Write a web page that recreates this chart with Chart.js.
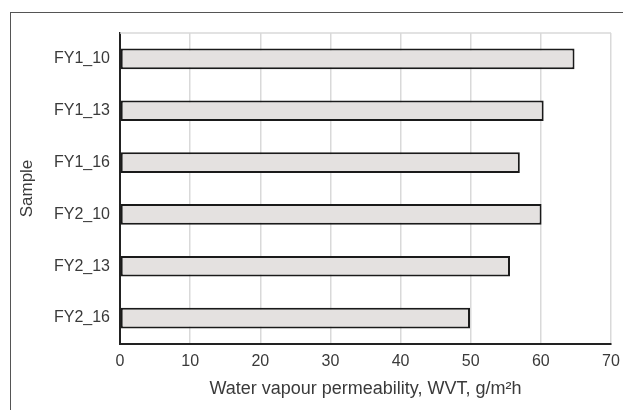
<!DOCTYPE html>
<html>
<head>
    <title>Water vapour permeability</title>
    <script src="https://cdn.jsdelivr.net/npm/chart.js"></script>
    <style>
        body {
            margin: 0;
            padding: 0;
            background: #fff;
        }
        .frame {
            position: absolute;
            left: 10px;
            top: 12px;
            width: 700px;
            height: 500px;
            border: 1.5px solid #555;
        }
        .wrap {
            position: absolute;
            left: 0;
            top: 0;
            width: 623px;
            height: 410px;
        }
    </style>
</head>
<body>
    <div class="frame"></div>
    <div class="wrap"><canvas id="wvtChart"></canvas></div>

    <script>
        const samples = ["FY1_10", "FY1_13", "FY1_16", "FY2_10", "FY2_13", "FY2_16"];
        const wvtValues = [64.8, 60.4, 57.0, 60.1, 55.6, 49.9];
        const xTicks = [0, 10, 20, 30, 40, 50, 60, 70];

        // light line along the top of the plot area
        const topBorder = {
            id: 'topBorder',
            beforeDatasetsDraw(chart) {
                const { ctx, chartArea } = chart;
                ctx.save();
                ctx.strokeStyle = '#d9d9d9';
                ctx.lineWidth = 1.5;
                ctx.beginPath();
                ctx.moveTo(chartArea.left, chartArea.top);
                ctx.lineTo(chartArea.right, chartArea.top);
                ctx.stroke();
                ctx.restore();
            }
        };

        const font = 'Liberation Sans, Arial, sans-serif';

        const ctx = document.getElementById('wvtChart').getContext('2d');
        new Chart(ctx, {
            type: 'bar',
            data: {
                labels: samples,
                datasets: [{
                    label: 'WVT',
                    data: wvtValues,
                    backgroundColor: '#e4e1e0',
                    borderColor: '#1a1a1a',
                    borderWidth: 2,
                    borderSkipped: false,
                    barPercentage: 0.4,
                    categoryPercentage: 1
                }]
            },
            options: {
                indexAxis: 'y',
                responsive: true,
                maintainAspectRatio: false,
                animation: false,
                layout: {
                    padding: { top: 33, right: 12, left: 0, bottom: 0 }
                },
                plugins: {
                    legend: { display: false },
                    tooltip: { enabled: false }
                },
                scales: {
                    x: {
                        min: 0,
                        max: 70,
                        afterBuildTicks: (axis) => {
                            axis.ticks = xTicks.map(v => ({ value: v }));
                        },
                        afterFit: (axis) => {
                            axis.height = 66;
                            axis.paddingLeft = 0;
                            axis.paddingRight = 0;
                        },
                        grid: {
                            color: '#d9d9d9',
                            lineWidth: 1.5,
                            tickLength: 0
                        },
                        border: { color: '#222', width: 2 },
                        ticks: {
                            color: '#3a3a3a',
                            padding: 8,
                            maxRotation: 0,
                            font: { family: font, size: 16 }
                        },
                        title: {
                            display: true,
                            text: 'Water vapour permeability, WVT, g/m²h',
                            color: '#3a3a3a',
                            padding: { top: 0, bottom: 10 },
                            font: { family: font, size: 18 }
                        }
                    },
                    y: {
                        afterFit: (axis) => { axis.width = 120; },
                        grid: { display: false, drawTicks: false },
                        border: { color: '#222', width: 2 },
                        ticks: {
                            color: '#3a3a3a',
                            padding: 10,
                            font: { family: font, size: 16 }
                        },
                        title: {
                            display: true,
                            text: 'Sample',
                            color: '#3a3a3a',
                            padding: { top: 17, bottom: 0 },
                            font: { family: font, size: 17 }
                        }
                    }
                }
            },
            plugins: [topBorder]
        });
    </script>
</body>
</html>
